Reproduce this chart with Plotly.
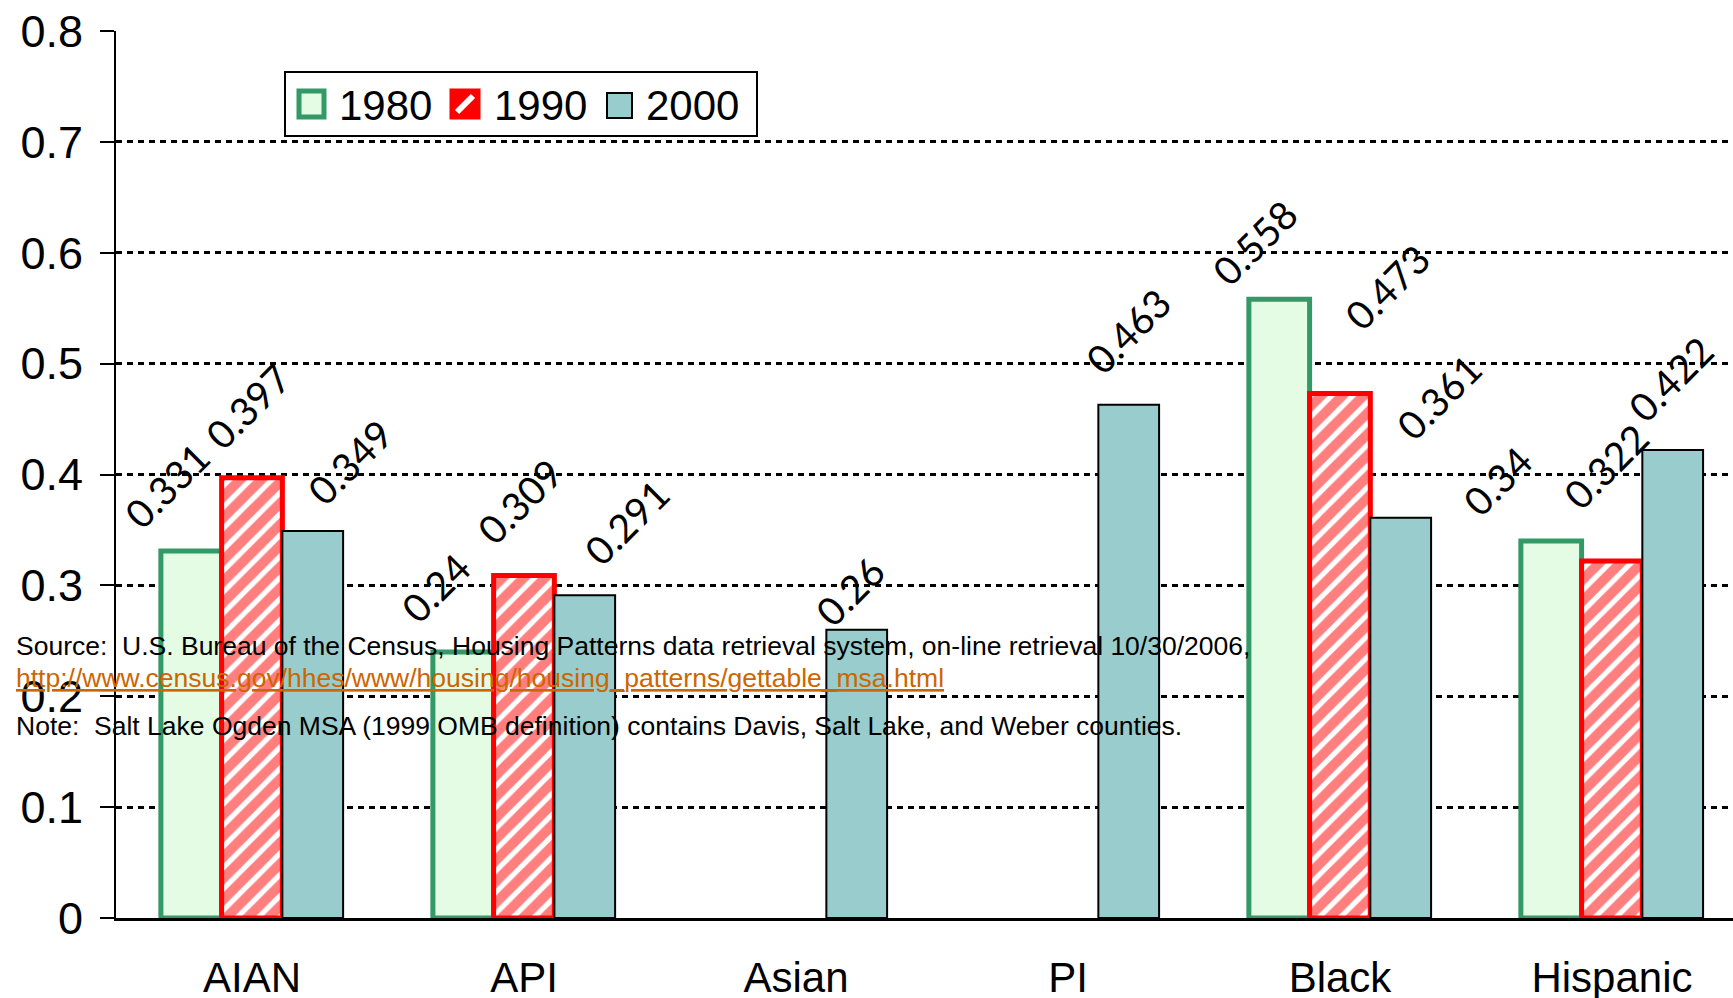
import plotly.graph_objects as go

# Dissimilarity index by group, Salt Lake-Ogden MSA
categories = ["AIAN", "API", "Asian", "PI", "Black", "Hispanic"]
years = ["1980", "1990", "2000"]
vals_1980 = [0.331, 0.24, None, None, 0.558, 0.34]
vals_1990 = [0.397, 0.309, None, None, 0.473, 0.322]
vals_2000 = [0.349, 0.291, 0.26, 0.463, 0.361, 0.422]
y_ticks = [0, 0.1, 0.2, 0.3, 0.4, 0.5, 0.6, 0.7, 0.8]

# pixel nudges for the rotated value labels (per series, per category)
label_dx = [
    [-24, -28, 0, 0, -24, -54],
    [-4, -4, 0, 0, 47, -6],
    [37, 42, -7, -1, 38, -2],
]
label_dy = [
    [66, 64, 0, 0, 57, 60],
    [72, 74, 0, 0, 107, 95],
    [69, 73, 39, 74, 121, 71],
]

W, H = 1733, 998
M_L, M_R, M_T, M_B = 116, 0, 31, 80
PLOT_W = W - M_L - M_R
PLOT_H = H - M_T - M_B

BARGAP = 0.33
AXIS_FONT = "Arial, Liberation Sans, sans-serif"
LABEL_FONT = "Lato, Century Gothic, sans-serif"
GREEN, GREEN_FILL = "#339966", "#E4FBE4"
RED = "#FF0000"
TEAL = "#99CCCC"


def px_x(x):
    """page pixel x -> paper coordinate"""
    return (x - M_L) / PLOT_W


def px_y(y):
    """page pixel y -> paper coordinate"""
    return (H - M_B - y) / PLOT_H


series = [vals_1980, vals_1990, vals_2000]
styles = [
    dict(color=GREEN_FILL, line=dict(color=GREEN, width=5)),
    dict(color="white", line=dict(color=RED, width=5),
         pattern=dict(shape="/", fgcolor=RED, bgcolor="white", size=15, solidity=0.65)),
    dict(color=TEAL, line=dict(color="black", width=2)),
]

fig = go.Figure()
x_idx = list(range(len(categories)))
for name, vals, mk in zip(years, series, styles):
    fig.add_trace(go.Bar(x=x_idx, y=vals, name=name, marker=mk,
                         hoverinfo="skip", showlegend=False))

# value labels, rotated, placed above each bar
bar_w = (1 - BARGAP) / len(series)
annotations = []
for k, vals in enumerate(series):
    for i, v in enumerate(vals):
        if v is None:
            continue
        annotations.append(dict(
            x=i + (k - 1) * bar_w, y=v, xref="x", yref="y",
            text=f"{v:g}", showarrow=False, textangle=-45,
            xanchor="center", yanchor="middle",
            xshift=label_dx[k][i], yshift=label_dy[k][i],
            font=dict(family=LABEL_FONT, size=39, color="black"),
        ))

# source / note block
note_font = dict(family=AXIS_FONT, size=26.5, color="black")
annotations += [
    dict(x=px_x(14), y=px_y(646), xref="paper", yref="paper", xanchor="left", yanchor="middle",
         showarrow=False, font=note_font, align="left",
         text="Source:  U.S. Bureau of the Census, Housing Patterns data retrieval system, on-line retrieval 10/30/2006,"),
    dict(x=px_x(14), y=px_y(678), xref="paper", yref="paper", xanchor="left", yanchor="middle",
         showarrow=False, font=dict(family=AXIS_FONT, size=26.5, color="#CC6600"), align="left",
         text="<u>http://www.census.gov/hhes/www/housing/housing_patterns/gettable_msa.html</u>"),
    dict(x=px_x(14), y=px_y(726), xref="paper", yref="paper", xanchor="left", yanchor="middle",
         showarrow=False, font=note_font, align="left",
         text="Note:  Salt Lake Ogden MSA (1999 OMB definition) contains Davis, Salt Lake, and Weber counties."),
]

# legend box with large swatches
shapes = [
    dict(type="rect", xref="paper", yref="paper",
         x0=px_x(285), x1=px_x(757), y0=px_y(136), y1=px_y(72),
         line=dict(color="black", width=2), fillcolor="white", layer="above"),
    dict(type="rect", xref="paper", yref="paper",
         x0=px_x(299), x1=px_x(324), y0=px_y(117), y1=px_y(91),
         line=dict(color=GREEN, width=5), fillcolor=GREEN_FILL, layer="above"),
    dict(type="rect", xref="paper", yref="paper",
         x0=px_x(452), x1=px_x(478), y0=px_y(117), y1=px_y(91),
         line=dict(color=RED, width=5), fillcolor=RED, layer="above"),
    dict(type="line", xref="paper", yref="paper",
         x0=px_x(457), x1=px_x(473), y0=px_y(112), y1=px_y(96),
         line=dict(color="white", width=6), layer="above"),
    dict(type="rect", xref="paper", yref="paper",
         x0=px_x(607), x1=px_x(632), y0=px_y(118), y1=px_y(93),
         line=dict(color="black", width=2), fillcolor=TEAL, layer="above"),
]
leg_font = dict(family=AXIS_FONT, size=42, color="black")
for label, x_left in zip(years, [337, 492, 644]):
    annotations.append(dict(
        x=px_x(x_left), y=px_y(105), xref="paper", yref="paper",
        xanchor="left", yanchor="middle", showarrow=False,
        text=label, font=leg_font,
    ))

fig.update_layout(
    width=W, height=H,
    margin=dict(l=M_L, r=M_R, t=M_T, b=M_B, autoexpand=False),
    paper_bgcolor="white", plot_bgcolor="white",
    barmode="group", bargap=BARGAP, bargroupgap=0,
    font=dict(family=AXIS_FONT, color="black"),
    showlegend=False,
    annotations=annotations,
    shapes=shapes,
)

fig.update_xaxes(
    range=[-0.5, 5.445], tickmode="array", tickvals=x_idx, ticktext=categories,
    showline=True, linecolor="black", linewidth=3, ticks="",
    showgrid=False, zeroline=False, automargin=False,
    tickfont=dict(family=AXIS_FONT, size=42, color="black"),
    ticklabelstandoff=21,
)
fig.update_yaxes(
    range=[0, 0.8], tickmode="array", tickvals=y_ticks,
    ticktext=[f"{t:g}" for t in y_ticks],
    showline=True, linecolor="black", linewidth=2,
    ticks="outside", ticklen=14, tickwidth=2, tickcolor="black",
    showgrid=True, gridcolor="black", gridwidth=3, griddash="6px,5px",
    zeroline=False, automargin=False,
    tickfont=dict(family=AXIS_FONT, size=45, color="black"),
    ticklabelstandoff=8,
)

fig.write_html("out.html")
